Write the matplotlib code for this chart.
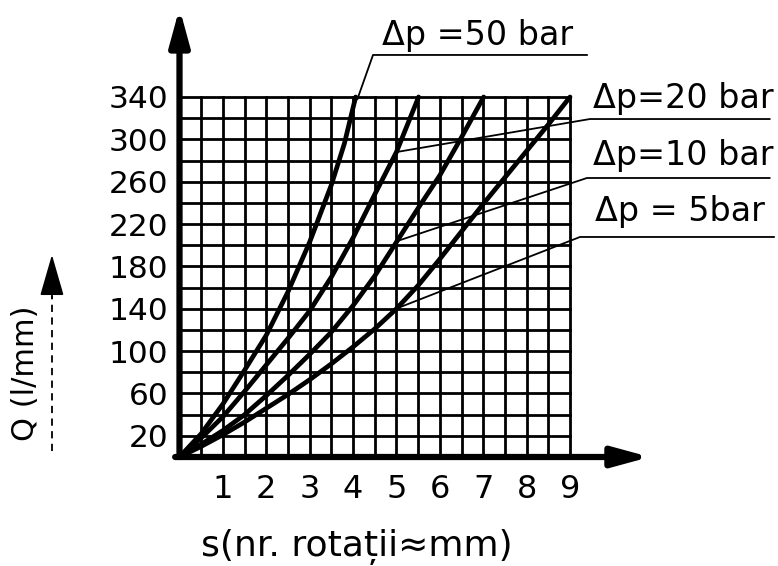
import matplotlib
matplotlib.use("Agg")
import matplotlib.pyplot as plt
import numpy as np

# curves: s (rotations ~ mm) vs Q (l/mm)
s_50 = [0, 0.5, 1.0, 1.5, 2.0, 2.5, 3.0, 3.5, 3.8, 4.06]
q_50 = [0, 22, 50, 82, 115, 156, 203, 257, 296, 340]

s_20 = [0, 0.5, 1.0, 1.5, 2.0, 2.5, 3.0, 3.5, 4.0, 4.5, 5.0, 5.51]
q_20 = [0, 18, 38, 62, 87, 112, 138, 170, 207, 248, 288, 340]

s_10 = [0, 0.5, 1.0, 1.5, 2.0, 2.5, 3.0, 3.5, 4.0, 4.5, 5.0, 5.5, 6.0, 6.5, 7.01]
q_10 = [0, 12, 25, 40, 58, 77, 97, 118, 143, 171, 203, 235, 266, 302, 340]

s_5 = [0, 0.5, 1.0, 1.5, 2.0, 2.5, 3.0, 3.5, 4.0, 4.5, 5.0, 5.5, 6.0, 6.5, 7.0, 7.5, 8.0, 8.5, 9.0]
q_5 = [0, 10, 21, 33, 46, 59, 73, 88, 104, 121, 140, 162, 187, 213, 239, 264, 289, 314, 340]

x_ticks = [1, 2, 3, 4, 5, 6, 7, 8, 9]
y_ticks = [20, 60, 100, 140, 180, 220, 260, 300, 340]

curve_labels = ["\u0394p =50 bar", "\u0394p=20 bar", "\u0394p=10 bar", "\u0394p = 5bar"]

FONT = "DejaVu Sans"


def axis_arrow(ax, start, end, lw=4.5):
    ax.annotate("", xy=end, xytext=start, annotation_clip=False,
                arrowprops=dict(arrowstyle="-|>,head_length=2.2,head_width=0.6",
                                mutation_scale=10, lw=lw, color="black",
                                shrinkA=0, shrinkB=0))


def main():
    plt.rcParams["font.family"] = [FONT]
    fig = plt.figure(figsize=(7.78, 5.66), dpi=100)
    # pixel box of the grid in the scan: x 179.5..570, y 97..457
    ax = fig.add_axes([179.5 / 778, (566 - 457) / 566, (570 - 179.5) / 778, (457 - 97) / 566])
    ax.set_xlim(0, 9)
    ax.set_ylim(0, 340)
    for sp in ax.spines.values():
        sp.set_visible(False)

    # millimetre-paper style grid
    for xv in np.arange(0.5, 9.01, 0.5):
        ax.plot([xv, xv], [0, 340], color="black", lw=2.0, clip_on=False, zorder=1)
    for yv in range(20, 341, 20):
        ax.plot([0, 9], [yv, yv], color="black", lw=2.0, clip_on=False, zorder=1)

    # curves
    for xs, ys in [(s_50, q_50), (s_20, q_20), (s_10, q_10), (s_5, q_5)]:
        ax.plot(xs, ys, color="black", lw=3.4, solid_capstyle="round",
                solid_joinstyle="round", clip_on=False, zorder=3)

    # axes with arrows
    axis_arrow(ax, (0, 0), (0, 424))
    axis_arrow(ax, (-0.1, 0), (10.84, 0))

    ax.set_xticks(x_ticks)
    ax.set_xticklabels([str(v) for v in x_ticks], fontsize=23)
    ax.set_yticks(y_ticks)
    ax.set_yticklabels([str(v) for v in y_ticks], fontsize=22.5)
    ax.tick_params(length=0)
    ax.tick_params(axis="x", pad=12)
    ax.tick_params(axis="y", pad=8)

    ax.text(4.08, -85, "s(nr. rota\u021bii\u2248mm)", ha="center", va="center",
            fontsize=26, clip_on=False)
    ax.text(-3.56, 79, "Q (l/mm)", ha="center", va="center", rotation=90,
            fontsize=22, clip_on=False)
    # dashed underline with arrow next to the Q label
    ax.plot([-2.94, -2.94], [6, 152], color="black", lw=1.3, ls=(0, (4, 3)), clip_on=False)
    ax.annotate("", xy=(-2.94, 191), xytext=(-2.94, 150), annotation_clip=False,
                arrowprops=dict(arrowstyle="-|>,head_length=2.6,head_width=0.75",
                                mutation_scale=10, lw=1.3, color="black",
                                shrinkA=0, shrinkB=0))

    # curve labels with underline and leader line
    text_pos = [(4.67, 389), (9.53, 329.6), (9.53, 275.8), (9.58, 222.9)]
    underline = [(4.46, 9.39, 379.7), (9.46, 13.6, 319.2), (9.39, 13.6, 263.5), (9.23, 13.7, 207.8)]
    leader_end = [(4.1, 338), (5.0, 288), (5.02, 204), (5.05, 141)]
    for lab, (tx, ty), (u0, u1, uy), (lx, ly) in zip(curve_labels, text_pos, underline, leader_end):
        ax.text(tx, ty, lab, ha="left", va="baseline", fontsize=24, clip_on=False)
        ax.plot([u1, u0, lx], [uy, uy, ly], color="black", lw=1.3, clip_on=False, zorder=4)

    fig.savefig("out.png", dpi=100)
    plt.close(fig)


if __name__ == "__main__":
    main()
